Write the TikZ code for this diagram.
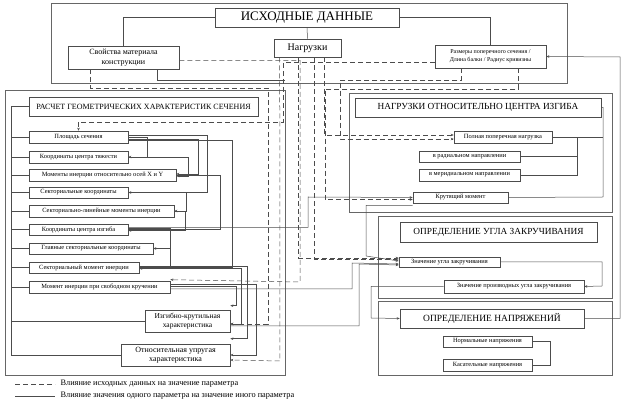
\documentclass[tikz,border=0pt]{standalone}
\usepackage{fontspec}
\setmainfont{Liberation Serif}
\usetikzlibrary{arrows.meta}
\begin{document}
\begin{tikzpicture}[x=1pt,y=-1pt,
  ln/.style={draw=black!70,line width=0.5pt},
  fr/.style={draw=black!60,line width=0.6pt},
  bx/.style={draw=black!70,line width=0.6pt,fill=white,inner sep=0pt,align=center},
  arr/.style={ln,-{Stealth[length=3pt,width=2.5pt]}},
  da/.style={ln,dash pattern=on 5pt off 3pt},
  daa/.style={da,-{Stealth[length=3pt,width=2.5pt]}}]
\useasboundingbox (0,0) rectangle (625,403);
\newcommand\bx[7]{\node[bx,minimum width=#4pt-#2pt,minimum height=#5pt-#3pt,font=#7] (#1) at ({(#2+#4)/2},{(#3+#5)/2}) {#6};}
% frames
\draw[fr] (51,3) rectangle (567,83);
\draw[fr] (5,90) rectangle (285,375);
\draw[fr] (349,93) rectangle (612,212);
\draw[fr] (378,216) rectangle (612,298);
\draw[fr] (378,301) rectangle (612,375);
\coordinate (bus) at (11,107);
% boxes top
\bx{isx}{215}{8}{399}{27}{ИСХОДНЫЕ ДАННЫЕ}{\fontsize{13}{13}\selectfont}
\bx{nag}{274}{39}{341}{57}{Нагрузки}{\fontsize{10}{10}\selectfont}
\bx{svo}{68}{46}{179}{69}{Свойства материала\\конструкции}{\fontsize{8}{9.5}\selectfont}
\bx{raz}{435}{45}{546}{68}{Размеры поперечного сечения /\\Длина балки / Радиус кривизны}{\fontsize{6}{8}\selectfont}
% left
\bx{rt}{29}{97}{258}{116}{РАСЧЕТ ГЕОМЕТРИЧЕСКИХ ХАРАКТЕРИСТИК СЕЧЕНИЯ}{\fontsize{8}{9}\selectfont}
\def\sf{\fontsize{6.4}{7}\selectfont}
\bx{pl}{29}{131}{128}{143}{Площадь сечения}{\sf}
\bx{kt}{29}{151}{128}{163}{Координаты центра тяжести}{\sf}
\bx{mi}{29}{169}{176}{181}{Моменты инерции относительно осей X и Y}{\sf}
\bx{sk}{29}{187}{128}{198}{Секториальные координаты}{\sf}
\bx{sl}{29}{205}{174}{217}{Секториально-линейные моменты инерции}{\sf}
\bx{ki}{29}{224}{128}{235}{Координаты центра изгиба}{\sf}
\bx{gs}{29}{243}{153}{254}{Главные секториальные координаты}{\sf}
\bx{sm}{29}{262}{139}{273}{Секториальный момент инерции}{\sf}
\bx{mk}{29}{281}{170}{293}{Момент инерции при свободном кручении}{\sf}
\bx{ik}{145}{310}{230}{332}{Изгибно-крутильная\\характеристика}{\fontsize{7.5}{9}\selectfont}
\bx{ou}{121}{344}{230}{366}{Относительная упругая\\характеристика}{\fontsize{8}{9.5}\selectfont}
% right
\bx{nt}{355}{98}{601}{117}{НАГРУЗКИ ОТНОСИТЕЛЬНО ЦЕНТРА ИЗГИБА}{\fontsize{9.3}{10}\selectfont}
\bx{pp}{454}{131}{552}{143}{Полная поперечная нагрузка}{\sf}
\bx{rad}{419}{151}{520}{162}{в радиальном направлении}{\sf}
\bx{mer}{419}{169}{520}{181}{в меридиальном направлении}{\sf}
\bx{kr}{413}{192}{508}{203}{Крутящий момент}{\sf}
\bx{ut}{400}{222}{597}{242}{ОПРЕДЕЛЕНИЕ УГЛА ЗАКРУЧИВАНИЯ}{\fontsize{9.3}{10}\selectfont}
\bx{zu}{399}{257}{500}{267}{Значение угла закручивания}{\sf}
\bx{zp}{444}{280}{584}{293}{Значение производных угла закручивания}{\sf}
\bx{on}{400}{309}{584}{328}{ОПРЕДЕЛЕНИЕ НАПРЯЖЕНИЙ}{\fontsize{9.5}{10}\selectfont}
\bx{nn}{443}{336}{532}{347}{Нормальные напряжения}{\sf}
\bx{kn}{443}{359}{532}{371}{Касательные напряжения}{\sf}
% ---- solid connectors
\draw[ln] (isx.west) -| (svo.north);
\draw[ln] (isx.east) -| (raz.north);
\draw[ln] (isx.south) -- (nag.north);
\draw[ln] (svo.south east) ++(-22,0) |- (285,80);
\foreach \n in {rt,pl,kt,mi,sk,sl,ki,gs,sm,mk} \draw[ln] (bus) |- (\n.west);
\draw[ln] (bus) |- (ik.west);
\draw[ln] (bus) |- (ou.west);
\draw[arr] (pl.east) -- ++(19,0) |- (kt.east);
\draw[arr] ([yshift=-2pt]pl.east) -- ++(70,0) |- ([yshift=1pt]mi.east);
\draw[arr] (kt.east) -- ++(60,0) |- ([yshift=-1pt]mi.east);
\draw[arr] ([yshift=2pt]pl.east) -- ++(79,0) |- (sk.east);
\draw[arr] ([yshift=-3pt]pl.east) -- ++(104,0) |- (sm.east);
\draw[arr] (mi.east) -- ++(44,0) |- (ki.east);
\draw[arr] (sk.east) -- ++(58,0) |- (sl.east);
\draw[arr] (sl.east) -- ++(11,0) |- ([yshift=-1pt]ki.east);
\draw[arr] ([yshift=1pt]ki.east) -- ++(42,0) |- (gs.east);
\draw[arr] (gs.east) -- ++(17,0) |- ([yshift=-1pt]sm.east);
\draw[arr] ([yshift=1pt]sm.east) -- ++(108,0) |- ([yshift=5pt]ou.north east);
\draw[arr] ([yshift=-1pt]sm.east) -- ++(102,0) |- ([yshift=-3pt]ik.east);
\draw[arr] ([yshift=1pt]mk.east) -- ++(66,0) |- ([yshift=4pt]ik.north east);
\draw[arr] ([yshift=3pt]mk.east) -- ++(86,0) |- (ou.east);
\draw[arr] ([yshift=-2pt]mk.east) -| (352,263) -- ([yshift=-2pt]zu.west);
\draw[arr] ([yshift=2pt]ki.east) -| (308,197) -- (kr.west);
\draw[arr] ([yshift=-5pt]ik.east) -| (359,264) -- ([yshift=-3pt]zu.west);
\draw[arr] ([yshift=-2pt]kr.south west) -| (366,256) -- ([yshift=1pt]zu.west);
\draw[ln] (nt.east) -| (603,197) -- (kr.east);
\draw[ln] (pp.east) -- (603,137);
\draw[ln] (rad.east) -| (577,137);
\draw[ln] (mer.east) -| (577,157);
\draw[arr] (zu.east) -| (602,286) -- (zp.east);
\draw[arr] (zp.west) -| (371,318) -- (on.west);
\draw[arr] (on.east) -| (620,57) -- (raz.east);
\draw[ln] (nn.east) -| (550,365) -- (kn.east);
% ---- dashed connectors
\draw[daa] ([yshift=-3pt]svo.east) -| (300,282) -- ([yshift=1pt]mk.north east);
\draw[daa] ([xshift=-33pt]svo.south) |- (268,88) |- ([yshift=-3pt]ik.east);
\draw[daa] ([yshift=-6pt]raz.west) -| (283,122) -| (pl.north);
\draw[daa] ([xshift=6pt]nag.south west) -- (280,361) -- ([yshift=-5pt]ou.east);
\draw[daa] ([xshift=41pt]nag.south west) |- ([yshift=3pt]zu.west);
\draw[daa] ([xshift=25pt]nag.south west) |- ([yshift=4pt]zu.west);
\draw[daa] ([xshift=51pt]nag.south west) |- ([yshift=2pt]pp.west);
\draw[daa] ([xshift=27pt]raz.south west) |- (340,80) |- ([yshift=-2pt]pp.west);
\draw[daa] ([xshift=84pt]raz.south west) |- (325,89) |- ([yshift=-2pt]kr.west);
% legend
\coordinate (l1) at (15,384); \coordinate (l2) at (15,396);
\draw[da] (l1) -- ++(40,0) node[right=2pt,font=\fontsize{8.3}{9}\selectfont] (t1) {Влияние исходных данных на значение параметра};
\draw[ln] (l2) -- ++(40,0) node[right=2pt,font=\fontsize{8.3}{9}\selectfont] (t2) {Влияние значения одного параметра на значение иного параметра};
\end{tikzpicture}
\end{document}
